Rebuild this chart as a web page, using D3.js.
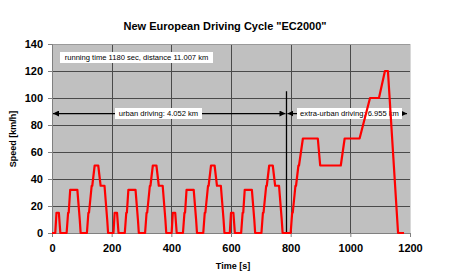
<!DOCTYPE html>
<html><head><meta charset="utf-8">
<script src="https://cdn.jsdelivr.net/npm/d3@7"></script>
<style>body{margin:0;background:#fff}svg{display:block}text{font-family:"Liberation Sans",Arial,sans-serif}</style>
</head><body><svg id="c" width="450" height="275"></svg>
<script>
// NEDC time points [s] and speeds [km/h]
const times = [
  0,11,15,23,28,49,54,56,61,85,93,96,117,122,124,133,135,143,155,163,176,185,188,
  206,210,218,223,244,249,251,256,280,288,291,312,317,319,328,330,338,350,358,371,380,383,
  401,405,413,418,439,444,446,451,475,483,486,507,512,514,523,525,533,545,553,566,575,578,
  596,600,608,613,634,639,641,646,670,678,681,702,707,709,718,720,728,740,748,761,770,773,
  800,805,807,816,818,826,828,841,891,899,968,981,1031,1066,1096,1116,1126,1160,1180
];
const speeds = [
  0,0,15,15,0,0,15,15,32,32,10,0,0,15,15,35,35,50,50,35,35,10,0,
  0,15,15,0,0,15,15,32,32,10,0,0,15,15,35,35,50,50,35,35,10,0,
  0,15,15,0,0,15,15,32,32,10,0,0,15,15,35,35,50,50,35,35,10,0,
  0,15,15,0,0,15,15,32,32,10,0,0,15,15,35,35,50,50,35,35,10,0,
  0,15,15,35,35,50,50,70,70,50,50,70,70,100,100,120,120,0,0
];
const xTicks = [0,200,400,600,800,1000,1200];
const yTicks = [0,20,40,60,80,100,120,140];
const title = 'New European Driving Cycle "EC2000"';
const xTitle = "Time [s]", yTitle = "Speed [km/h]";
const infoText = "running time 1180 sec, distance 11.007 km";
const urbanText = "urban driving: 4.052 km";
const extraText = "extra-urban driving: 6.955 km";
const splitTime = 786;

const svg = d3.select("#c");
const L=52, R=410, T=44, B=233;
const x = d3.scaleLinear().domain([0,1200]).range([L,R]);
const y = d3.scaleLinear().domain([0,140]).range([B,T]);

svg.append("rect").attr("x",L).attr("y",T).attr("width",R-L).attr("height",B-T).attr("fill","#c0c0c0");

// gridlines
svg.append("g").selectAll("line").data(yTicks.slice(1,-1)).join("line")
  .attr("x1",L).attr("x2",R).attr("y1",d=>y(d)+0.5).attr("y2",d=>y(d)+0.5)
  .attr("stroke","#4a4a4a").attr("stroke-width",1);
svg.append("g").selectAll("line").data(xTicks.slice(1,-1)).join("line")
  .attr("y1",T).attr("y2",B).attr("x1",d=>Math.round(x(d))+0.5).attr("x2",d=>Math.round(x(d))+0.5)
  .attr("stroke","#4a4a4a").attr("stroke-width",1);
// frame top/right
svg.append("line").attr("x1",L).attr("x2",R).attr("y1",T+0.5).attr("y2",T+0.5).attr("stroke","#9a9a9a");
svg.append("line").attr("x1",R+0.5).attr("x2",R+0.5).attr("y1",T).attr("y2",B).attr("stroke","#d8d8d8");

// axes
const xa = svg.append("g").attr("transform",`translate(0,${B})`)
  .call(d3.axisBottom(x).tickValues(xTicks).tickFormat(d3.format("d")).tickSize(4).tickPadding(7));
const ya = svg.append("g").attr("transform",`translate(${L},0)`)
  .call(d3.axisLeft(y).tickValues(yTicks).tickFormat(d3.format("d")).tickSize(4).tickPadding(5));
[xa,ya].forEach(a=>{
  a.select(".domain").attr("stroke","#808080");
  a.selectAll(".tick line").attr("stroke","#808080");
  a.selectAll(".tick text").attr("fill","#000").style("font-size","11px").style("font-weight","bold")
   .style("font-family",'"Liberation Sans",Arial,sans-serif');
});

// info box
function box(x0,y0,w,h,txt){
  svg.append("rect").attr("x",x0).attr("y",y0).attr("width",w).attr("height",h).attr("fill","#fff");
  svg.append("text").attr("x",x0+w/2).attr("y",y0+h/2+2.6).attr("text-anchor","middle")
    .style("font-size","7.6px").attr("fill","#000").text(txt);
}

// arrows
const defs = svg.append("defs");
defs.append("marker").attr("id","ah").attr("viewBox","0 0 10 10").attr("refX",10).attr("refY",5)
  .attr("markerWidth",5).attr("markerHeight",5).attr("orient","auto-start-reverse")
  .append("path").attr("d","M0,0L10,5L0,10z").attr("fill","#000");
const ay = y(88.5);
svg.append("line").attr("x1",x(0)+1).attr("x2",x(splitTime)-1).attr("y1",ay).attr("y2",ay)
  .attr("stroke","#000").attr("stroke-width",1.2).attr("marker-start","url(#ah)").attr("marker-end","url(#ah)");
svg.append("line").attr("x1",x(splitTime)+1).attr("x2",x(1190)).attr("y1",ay).attr("y2",ay)
  .attr("stroke","#000").attr("stroke-width",1.2).attr("marker-start","url(#ah)").attr("marker-end","url(#ah)");
svg.append("line").attr("x1",x(splitTime)).attr("x2",x(splitTime)).attr("y1",y(105)).attr("y2",B)
  .attr("stroke","#000").attr("stroke-width",1.3);

box(60,52,153,11,infoText);
box(115,108,87,11,urbanText);
box(297,108,105,11,extraText);

// speed line
svg.append("path").datum(times.map((t,i)=>[t,speeds[i]]))
  .attr("d",d3.line().x(d=>x(d[0])).y(d=>y(d[1])))
  .attr("fill","none").attr("stroke","#ff0000").attr("stroke-width",2.2).attr("stroke-linejoin","round");

// titles
svg.append("text").attr("x",225).attr("y",30).attr("text-anchor","middle")
  .style("font-size","11px").style("font-weight","bold").text(title);
svg.append("text").attr("x",233).attr("y",269).attr("text-anchor","middle")
  .style("font-size","9px").style("font-weight","bold").text(xTitle);
svg.append("text").attr("transform","translate(16,139) rotate(-90)").attr("text-anchor","middle")
  .style("font-size","9px").style("font-weight","bold").text(yTitle);
</script></body></html>
